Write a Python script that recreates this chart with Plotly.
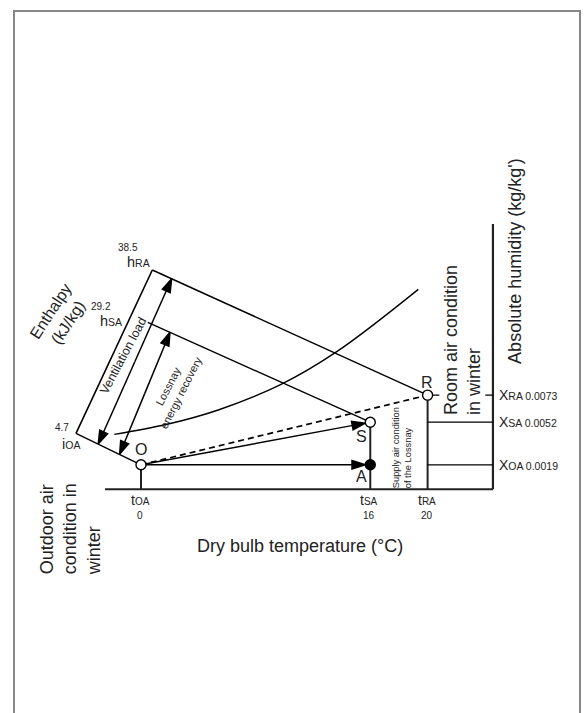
import plotly.graph_objects as go

# ---------------- data ----------------
state_names = ["O", "A", "S", "R"]
state_temp = [0, 16, 16, 20]                    # dry bulb temperature (°C)
state_hum = [0.0019, 0.0019, 0.0052, 0.0073]    # absolute humidity (kg/kg')
state_filled = [False, True, False, False]

temp_tick_values = [0, 16, 20]
temp_tick_subs = ["OA", "SA", "RA"]

hum_tick_values = [0.0073, 0.0052, 0.0019]
hum_tick_subs = ["RA", "SA", "OA"]

enth_values = [38.5, 29.2, 4.7]                 # enthalpy (kJ/kg)
enth_letters = ["h", "h", "i"]
enth_subs = ["RA", "SA", "OA"]
enth_states = ["R", "S", "O"]

sat_temp = [-1.86, 1.75, 5.39, 9.70, 13.66, 19.35]
sat_hum = [0.00426, 0.00502, 0.00615, 0.00809, 0.01067, 0.01550]

# ---------------- layout / geometry constants ----------------
W, H = 585, 713
PX_PER_C = 14.33
PX_PER_HUM = 12900.0
T0_PX, X0_PX = 141.0, 489.3
T_RANGE = [-T0_PX / PX_PER_C, (W - T0_PX) / PX_PER_C]
X_RANGE = [-(H - X0_PX) / PX_PER_HUM, X0_PX / PX_PER_HUM]

T_AXIS_LEFT, T_AXIS_RIGHT, HUM_AXIS_TOP = -2.51, 24.56, 0.02057
# oblique enthalpy scale: position of h = 0 and step per kJ/kg
ENTH_T0, ENTH_DT = -5.276, 0.15753
ENTH_X0, ENTH_DX = 0.0025808, 0.00037453
VENT_OFF = (1.55, 1.35)      # distance (°C) of the ventilation arrow from the scale
LOSS_OFF = (3.04, 2.70)      # distance (°C) of the Lossnay arrow from the scale
HSA_START = 1.15

FONT = "Liberation Sans, Arial, sans-serif"
TXT = "#222"
INK = "#000"

P = {n: (t, x) for n, t, x in zip(state_names, state_temp, state_hum)}


def enth_pos(h):
    return ENTH_T0 + ENTH_DT * h, ENTH_X0 + ENTH_DX * h


def along(h, name, dt):
    bt, bx = enth_pos(h)
    pt, px = P[name]
    f = dt / (pt - bt)
    return bt + f * (pt - bt), bx + f * (px - bx)


fig = go.Figure()


def line(ts, xs, color=INK, width=1.3, dash=None, shape="linear"):
    fig.add_trace(go.Scatter(x=ts, y=xs, mode="lines",
                             line=dict(color=color, width=width, dash=dash, shape=shape),
                             hoverinfo="skip", showlegend=False))


def arrow(a, b, standoff=0.0, width=1.5, size=14):
    fig.add_trace(go.Scatter(x=[a[0], b[0]], y=[a[1], b[1]], mode="lines+markers",
                             line=dict(color=INK, width=width),
                             marker=dict(symbol="arrow", size=[0, size], angleref="previous",
                                         standoff=standoff, color=INK, opacity=1,
                                         line=dict(width=1.4, color=INK)),
                             hoverinfo="skip", showlegend=False))


def text(t, x, s, size=14, xshift=0, yshift=0, angle=0, align="center", bg=None):
    fig.add_annotation(x=t, y=x, xref="x", yref="y", text=s, showarrow=False,
                       font=dict(family=FONT, size=size, color=TXT),
                       xshift=xshift, yshift=yshift, textangle=angle, align=align,
                       bgcolor=bg, borderpad=1)


# axes of the diagram
line([T_AXIS_LEFT, T_AXIS_RIGHT], [0, 0], "#222", 2)
line([T_AXIS_RIGHT, T_AXIS_RIGHT], [0, HUM_AXIS_TOP], "#222", 2.2)

# vertical temperature lines
for tv in temp_tick_values:
    top = max(x for t, x in zip(state_temp, state_hum) if t == tv)
    line([tv, tv], [0, top], "#222", 2)

# horizontal humidity lines to the right axis
for hv in hum_tick_values:
    line([max(temp_tick_values), T_AXIS_RIGHT], [hv, hv], INK, 1.3)

# enthalpy scale and lines
lo, hi = enth_pos(min(enth_values)), enth_pos(max(enth_values))
line([lo[0], hi[0]], [lo[1], hi[1]], INK, 1.6)
for h, name in zip(enth_values, enth_states):
    start = along(h, name, HSA_START) if name == "S" else enth_pos(h)
    line([start[0], P[name][0]], [start[1], P[name][1]], INK, 1.4)

# saturation curve
line(sat_temp, sat_hum, INK, 1.4, shape="spline")

# O -> R dashed
line([P["O"][0], P["R"][0]], [P["O"][1], P["R"][1]], INK, 1.7, dash="6px,4px")

# process arrows
arrow(P["O"], P["S"], standoff=5, width=1.4, size=14)
arrow(P["O"], P["A"], standoff=5, width=1.4, size=14)

# double arrows: ventilation load and Lossnay recovery
h_oa = enth_values[enth_states.index("O")]
h_ra = enth_values[enth_states.index("R")]
h_sa = enth_values[enth_states.index("S")]
for (h1, n1, h2, n2, off) in [(h_oa, "O", h_ra, "R", VENT_OFF), (h_oa, "O", h_sa, "S", LOSS_OFF)]:
    a = along(h1, n1, off[0])
    b = along(h2, n2, off[1])
    mid = ((a[0] + b[0]) / 2, (a[1] + b[1]) / 2)
    arrow(mid, a)
    arrow(mid, b)
    if n2 == "R":
        text(mid[0], mid[1], "Ventilation load", 12.5, xshift=-11, yshift=6, angle=-62)
    else:
        text(mid[0], mid[1], "Lossnay<br>energy recovery", 11, xshift=30, yshift=4, angle=-63)

# state points
fig.add_trace(go.Scatter(x=state_temp, y=state_hum, mode="markers",
                         marker=dict(size=10, color=["#000" if f else "#fff" for f in state_filled],
                                     line=dict(color=INK, width=1.4)),
                         hoverinfo="skip", showlegend=False))

# point letters
label_shift = {"O": (0, 15), "A": (-9, -12), "S": (-9, -14), "R": (-1, 13)}
for n in state_names:
    text(P[n][0], P[n][1], n, 16, *label_shift[n])

# temperature tick labels
for tv, sub in zip(temp_tick_values, temp_tick_subs):
    text(tv, 0, f"t<span style='font-size:10px'>{sub}</span>", 14, -1, -11)
    text(tv, 0, f"{tv:g}", 10, -1, -26)

# humidity tick labels
for hv, sub in zip(hum_tick_values, hum_tick_subs):
    fig.add_annotation(x=T_AXIS_RIGHT, y=hv, xref="x", yref="y", showarrow=False,
                       text=f"X<span style='font-size:10.5px'>{sub} {hv:.4f}</span>",
                       xanchor="left", xshift=4, font=dict(family=FONT, size=14, color=TXT))

# enthalpy labels
value_shift = [(-24, 23), (-30, 8), (-14, 6)]
name_shift = [(-14, 8), (-20, -6), (-5, -11)]
for h, let, sub, vs, ns in zip(enth_values, enth_letters, enth_subs, value_shift, name_shift):
    pt, px = enth_pos(h)
    text(pt, px, f"{h:g}", 10, *vs)
    text(pt, px, f"{let}<span style='font-size:10.5px'>{sub}</span>", 14.5, *ns)

mid_h = (min(enth_values) + max(enth_values)) / 2
text(*enth_pos(mid_h), "Enthalpy<br>(kJ/kg)", 16, xshift=-55, yshift=35, angle=-57)

# axis titles and descriptive texts
text((T_AXIS_LEFT + T_AXIS_RIGHT) / 2, 0, "Dry bulb temperature (°C)", 18, xshift=1, yshift=-57)
text(T_AXIS_RIGHT, HUM_AXIS_TOP, "Absolute humidity (kg/kg')", 18, xshift=22, yshift=-37, angle=-90)
text(T_AXIS_RIGHT, P["R"][1], "Room air condition<br>in winter", 18, xshift=-30.5, yshift=55.5,
     angle=-90, align="left", bg="#fff")
text((temp_tick_values[1] + temp_tick_values[2]) / 2, 0, "Supply air condition<br>of the Lossnay", 9.3,
     xshift=3, yshift=42, angle=-90, align="left")
text(T_AXIS_LEFT, 0, "Outdoor air<br>condition in<br>winter", 18, xshift=-35, yshift=-40,
     angle=-90, align="left")

# page frame
fig.add_shape(type="rect", xref="paper", yref="paper", x0=14 / W, x1=580 / W,
              y0=-0.2, y1=1 - 11 / H, line=dict(color="#888", width=2), fillcolor="rgba(0,0,0,0)")

fig.update_layout(width=W, height=H, margin=dict(l=0, r=0, t=0, b=0),
                  paper_bgcolor="#fff", plot_bgcolor="#fff", showlegend=False,
                  xaxis=dict(range=T_RANGE, visible=False, fixedrange=True),
                  yaxis=dict(range=X_RANGE, visible=False, fixedrange=True))

fig.write_html("out.html", config={"displayModeBar": False},
               post_script="document.body.style.margin='0px';")
